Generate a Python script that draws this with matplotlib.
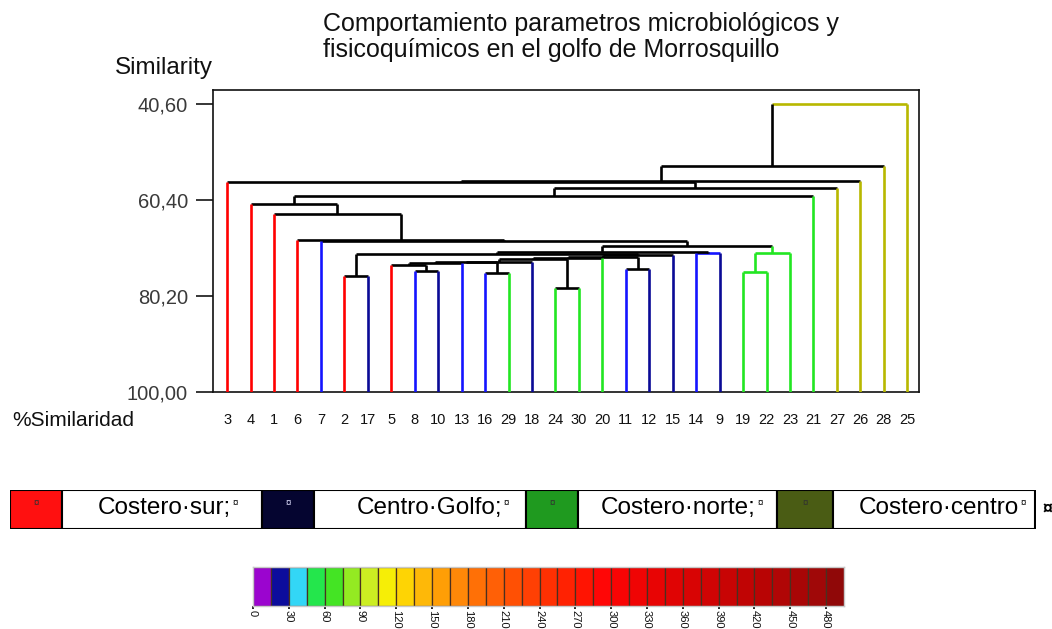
import matplotlib
matplotlib.use('Agg')
import matplotlib.pyplot as plt
from matplotlib.patches import Rectangle

# ---------------- data ----------------
leaf_labels = ['3', '4', '1', '6', '7', '2', '17', '5', '8', '10', '13', '16', '29', '18', '24',
               '30', '20', '11', '12', '15', '14', '9', '19', '22', '23', '21', '27', '26', '28', '25']
leaf_groups = ['sur', 'sur', 'sur', 'sur', 'golfo', 'sur', 'golfo2', 'sur', 'golfo', 'golfo2',
               'golfo', 'golfo', 'norte', 'golfo2', 'norte', 'norte', 'norte', 'golfo', 'golfo2', 'golfo2',
               'golfo', 'golfo2', 'norte', 'norte', 'norte', 'norte', 'centro', 'centro', 'centro', 'centro']

# merges: node ids 0..29 are leaves, merge k creates node 30+k
merge_a = [5, 8, 11, 14, 17, 20, 22, 36, 7, 38, 39, 40, 41, 42, 43, 44, 30, 46, 47, 4, 3, 2, 1, 52, 53, 0, 55, 56, 57]
merge_b = [6, 9, 12, 15, 18, 21, 23, 24, 31, 10, 32, 13, 33, 16, 34, 19, 45, 35, 37, 48, 49, 50, 51, 25, 26, 54, 27, 28, 29]
merge_sim = [76.1, 75.0, 75.4, 78.6, 74.6, 71.4, 75.2, 71.3, 73.7, 73.45, 73.25, 73.08, 72.57, 72.42,
             72.09, 71.74, 71.5, 71.1, 69.8, 68.9, 68.65, 63.3, 61.3, 59.5, 58.0, 56.7, 56.4, 53.4, 40.6]
merge_group = ['k', 'k', 'k', 'k', 'k', 'golfo', 'norte', 'norte', 'k', 'k', 'k', 'k', 'k', 'k',
               'k', 'k', 'k', 'k', 'k', 'k', 'k', 'k', 'k', 'k', 'k', 'k', 'k', 'k', 'centro']

y_ticks = [40.6, 60.4, 80.2, 100.0]
y_ticklabels = ['40,60', '60,40', '80,20', '100,00']

legend_names = ['Costero·sur;', 'Centro·Golfo;', 'Costero·norte;', 'Costero·centro']

scale_ticks = [0, 30, 60, 90, 120, 150, 180, 210, 240, 270, 300, 330, 360, 390, 420, 450, 480]
scale_colors = ['#9b05cf', '#0c0c9c', '#33d6f6', '#24e64c', '#44e424', '#94ea22', '#ccee22', '#f6ee06',
                '#fed404', '#feb808', '#ff9e06', '#ff8808', '#ff7006', '#ff6006', '#ff5004', '#ff4004',
                '#ff3002', '#ff2202', '#ff1402', '#ff0606', '#f80404', '#f00404', '#e80404', '#e00404',
                '#d80404', '#d00404', '#c80404', '#c00404', '#b80404', '#b00606', '#a80606', '#a00808',
                '#900808']

# ---------------- styles ----------------
group_color = {'sur': '#ff0000', 'golfo': '#1414ff', 'golfo2': '#0a0a96', 'norte': '#22e622',
               'centro': '#b8b800', 'k': '#000000'}
legend_colors = ['#ff1010', '#050530', '#1f9a1f', '#4a5c14']

W, H, DPI = 1052, 629, 100


def fr(x0, y0, x1, y1):
    return [x0 / W, 1 - y1 / H, (x1 - x0) / W, (y1 - y0) / H]


plt.rcParams['font.family'] = ['Liberation Sans', 'DejaVu Sans']
fig = plt.figure(figsize=(W / DPI, H / DPI), dpi=DPI)

# ---------------- dendrogram ----------------
ax = fig.add_axes(fr(213, 90, 919, 392))
n = len(leaf_labels)
xpos = {i: float(i) for i in range(n)}
hgt = {i: 100.0 for i in range(n)}
col = {i: group_color[g] for i, g in enumerate(leaf_groups)}
parent = {}
for k, (a, b, h, g) in enumerate(zip(merge_a, merge_b, merge_sim, merge_group)):
    nid = n + k
    xpos[nid] = (xpos[a] + xpos[b]) / 2
    hgt[nid] = h
    col[nid] = group_color[g] if g in ('norte',) else '#000000'
    parent[a] = nid
    parent[b] = nid

lw = 1.9
for k, (a, b, h, g) in enumerate(zip(merge_a, merge_b, merge_sim, merge_group)):
    ax.plot([xpos[a], xpos[b]], [h, h], color=group_color[g], lw=lw, solid_capstyle='butt', zorder=2)
for node, p in parent.items():
    z = 3 if node < n else 2
    ax.plot([xpos[node], xpos[node]], [hgt[node], hgt[p]], color=col[node], lw=lw,
            solid_capstyle='butt', zorder=z)

ax.set_xlim(-0.6, 29.5)
ax.set_ylim(100.0, 37.7)
ax.set_yticks(y_ticks)
ax.set_yticklabels(y_ticklabels, fontsize=14.5, color='#3a3a3a')
ax.set_xticks(range(n))
ax.set_xticklabels(leaf_labels, fontsize=10.5, color='#111111')
ax.tick_params(axis='x', length=0, pad=15)
ax.tick_params(axis='y', length=12, width=1.1, pad=6, direction='out')
for s in ax.spines.values():
    s.set_linewidth(1.2)
    s.set_color('#111111')

fig.text(323 / W, 1 - 31 / H, 'Comportamiento parametros microbiológicos y', fontsize=18,
         va='baseline', ha='left', color='#111111')
fig.text(323 / W, 1 - 57 / H, 'fisicoquímicos en el golfo de Morrosquillo', fontsize=18,
         va='baseline', ha='left', color='#111111')
fig.text(115 / W, 1 - 74 / H, 'Similarity', fontsize=17.5, va='baseline', ha='left', color='#111111')
fig.text(12 / W, 1 - 426 / H, '%Similaridad', fontsize=15, va='baseline', ha='left', color='#111111')

# ---------------- group legend bar ----------------
lax = fig.add_axes(fr(10, 490, 1036, 529))
lax.set_xlim(10, 1036)
lax.set_ylim(529, 490)
lax.axis('off')
swatch_x = [10, 262, 526, 777]
swatch_w = [52, 52, 52, 56]
text_x1 = [262, 526, 777, 1035]
text_end = [231, 502, 756, 1019]
for i, name in enumerate(legend_names):
    x0 = swatch_x[i]
    lax.add_patch(Rectangle((x0, 490), swatch_w[i], 39, facecolor=legend_colors[i], edgecolor='#000000', lw=1.5))
    lax.add_patch(Rectangle((x0 + swatch_w[i], 490), text_x1[i] - x0 - swatch_w[i], 39, facecolor='white',
                            edgecolor='#000000', lw=1.5))
    lax.text(x0 + swatch_w[i] / 2, 503, '¤', fontsize=7, ha='center', va='center',
             color='#e0e0ff' if i == 1 else '#303030')
    lax.text(text_end[i], 508, name, fontsize=17.5, ha='right', va='center', color='#000000')
    lax.text(text_end[i] + 1, 503, '¤', fontsize=7, ha='left', va='center', color='#000000')
fig.text(1043 / W, 1 - 510 / H, '¤', fontsize=13, ha='left', va='center', color='#000000', fontweight='bold')

# ---------------- colour scale ----------------
cax = fig.add_axes(fr(253, 567, 844, 606))
step = (scale_ticks[1] - scale_ticks[0]) / 2
for i, c in enumerate(scale_colors):
    cax.add_patch(Rectangle((i * step, 0), step, 1, facecolor=c, edgecolor='#4a3020', lw=0.9))
cax.set_xlim(0, len(scale_colors) * step)
cax.set_ylim(0, 1)
cax.set_yticks([])
cax.set_xticks(scale_ticks)
cax.set_xticklabels([str(t) for t in scale_ticks], rotation=270, fontsize=8, va='top', ha='center',
                    color='#111111')
cax.tick_params(axis='x', length=2, width=1.2, pad=1)
for s in cax.spines.values():
    s.set_color('#c8c8c8')
    s.set_linewidth(1.0)

fig.savefig('out.png', dpi=DPI)
